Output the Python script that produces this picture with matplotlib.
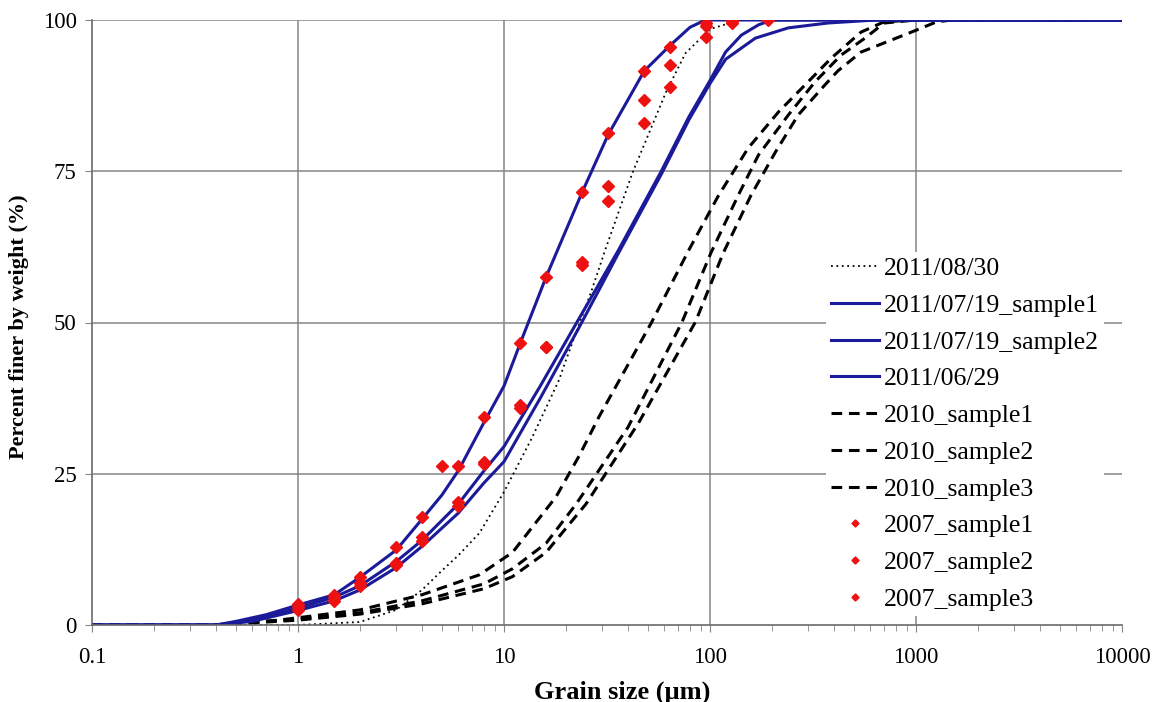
import matplotlib
matplotlib.use("Agg")
import matplotlib.pyplot as plt
from matplotlib.ticker import LogLocator, FixedLocator, NullFormatter

# ---- data ----
dotted_x = [0.1, 1, 2, 3, 4, 5, 6, 7.6, 10, 13.7, 18.5, 20, 26.7, 31, 42, 61, 76, 100, 140, 10000]
dotted_y = [0, 0, 0.5, 2.5, 5.8, 9, 11.5, 15.2, 22, 31, 40.5, 43.8, 55.4, 62, 74.7, 88, 94.5, 98.5, 100, 100]

s1_x = [0.1, 0.4, 0.6, 1, 1.5, 2, 3, 4, 6, 8, 10, 15, 23, 36, 58, 79, 100, 119, 142, 172, 200, 10000]
s1_y = [0, 0, 0.8, 2.8, 4.6, 6.5, 10.5, 14, 20, 25.5, 29.5, 39.5, 50.5, 62, 75, 84, 90, 94.7, 97.5, 99.2, 100, 100]

s2_x = [0.1, 0.4, 0.6, 1, 1.5, 2, 3, 4, 6, 8, 10, 15, 23, 36, 58, 79, 100, 119, 166, 240, 373, 640, 10000]
s2_y = [0, 0, 0.6, 2.4, 4, 5.8, 9.5, 13, 18.5, 23.5, 27, 37.5, 49, 61.5, 74.5, 83.5, 89.5, 93.5, 97, 98.7, 99.5, 100, 100]

jun_x = [0.1, 0.4, 0.5, 0.7, 1, 1.5, 2, 3, 4, 5, 6, 8, 10, 12, 16, 24, 32, 48, 64, 80, 95, 10000]
jun_y = [0, 0, 0.6, 1.7, 3.3, 5, 7.9, 12.4, 17.5, 21.5, 25.5, 33.5, 39.5, 46.6, 57.5, 71.6, 81, 91.6, 95.8, 98.8, 100, 100]

d1_x = [0.1, 0.4, 0.8, 1, 2, 4, 7.6, 11, 17.9, 23.2, 28.9, 52, 79, 110, 153, 215, 290, 388, 541, 700, 1000, 10000]
d1_y = [0, 0, 0.8, 1.2, 2.5, 5, 8.3, 12, 21.2, 28, 34.4, 50, 62, 71, 78.8, 84.8, 89.3, 93.7, 98, 99.7, 100, 100]

d2_x = [0.1, 0.4, 1, 2, 4, 8, 11, 16, 22.4, 40, 73, 101, 137, 172, 240, 324, 433, 565, 700, 1000, 10000]
d2_y = [0, 0, 1.0, 2.0, 4.0, 6.8, 9.3, 13.5, 20, 32.7, 50, 61.5, 71, 77.7, 84.3, 89.8, 94.2, 97, 99.5, 100, 100]

d3_x = [0.1, 0.4, 1, 2, 4, 8, 11, 16, 25, 45, 85, 116, 158, 208, 268, 362, 418, 541, 610, 1000, 1260, 1500, 10000]
d3_y = [0, 0, 0.8, 1.8, 3.5, 6, 8, 12, 20, 33.4, 50.1, 61.5, 71, 78.2, 84.3, 89.3, 91.6, 94.7, 95.4, 98.3, 99.7, 100, 100]

p1_x = [1, 1.5, 2, 3, 4, 5, 6, 8, 12, 16, 24, 32, 48, 64, 96, 128]
p1_y = [3.5, 5, 8, 12.9, 17.8, 26.2, 26.2, 34.4, 46.6, 57.5, 71.6, 81.3, 91.6, 95.5, 99.5, 100]

p2_x = [1, 1.5, 2, 3, 4, 6, 8, 12, 16, 24, 32, 48, 64, 96, 128, 192]
p2_y = [3, 4.5, 7, 10.2, 14.5, 20.3, 26.6, 36.4, 46, 60, 70.1, 83, 89, 97.2, 99.5, 100]

p3_x = [1, 1.5, 2, 3, 4, 6, 8, 12, 16, 24, 32, 48, 64, 96, 128]
p3_y = [2.5, 4, 6.4, 10, 13.9, 19.7, 27, 35.8, 46, 59.5, 72.6, 86.8, 92.6, 99, 99.8]

x_ticks = [0.1, 1, 10, 100, 1000, 10000]
x_tick_labels = ["0.1", "1", "10", "100", "1000", "10000"]
y_ticks = [0, 25, 50, 75, 100]

labels = ["2011/08/30", "2011/07/19_sample1", "2011/07/19_sample2", "2011/06/29",
          "2010_sample1", "2010_sample2", "2010_sample3",
          "2007_sample1", "2007_sample2", "2007_sample3"]

# ---- drawing ----
plt.rcParams['font.family'] = ['Liberation Serif', 'DejaVu Serif']
fig = plt.figure(figsize=(11.64, 7.02), dpi=100)
ax = fig.add_axes([92/1164, 1-625/702, (1122-92)/1164, (625-20)/702])

ax.set_xscale('log')
ax.set_xlim(0.1, 10000)
ax.set_ylim(0, 100)

grid_c = '#858585'
for gx in x_ticks[1:-1]:
    ax.axvline(gx, color=grid_c, lw=1.1, zorder=0)
for gy in y_ticks[1:]:
    ax.axhline(gy, color=grid_c, lw=1.1, zorder=0)

blue = '#1b1b9a'
ax.plot(dotted_x, dotted_y, color='black', ls=(0, (1, 2)), lw=1.3, label=labels[0], zorder=3)
ax.plot(s1_x, s1_y, color=blue, lw=2.2, label=labels[1], zorder=4)
ax.plot(s2_x, s2_y, color=blue, lw=2.2, label=labels[2], zorder=4)
ax.plot(jun_x, jun_y, color=blue, lw=2.2, label=labels[3], zorder=4)
ax.plot(d1_x, d1_y, color='black', ls=(0, (3.5, 2.2)), lw=2.2, label=labels[4], zorder=3)
ax.plot(d2_x, d2_y, color='black', ls=(0, (3.5, 2.2)), lw=2.2, label=labels[5], zorder=3)
ax.plot(d3_x, d3_y, color='black', ls=(0, (3.5, 2.2)), lw=2.2, label=labels[6], zorder=3)
for px, py, lb in [(p1_x, p1_y, labels[7]), (p2_x, p2_y, labels[8]), (p3_x, p3_y, labels[9])]:
    ax.plot(px, py, ls='none', marker='D', ms=6, color='#ee1111', mec='#ee1111', label=lb, zorder=5)

ax.xaxis.set_major_locator(FixedLocator(x_ticks))
ax.set_xticklabels(x_tick_labels)
ax.xaxis.set_minor_locator(LogLocator(base=10, subs=range(2, 10)))
ax.xaxis.set_minor_formatter(NullFormatter())
ax.set_yticks(y_ticks)
ax.tick_params(axis='both', which='major', labelsize=16.5, direction='out', length=5, color=grid_c)
ax.tick_params(axis='y', which='major', pad=6)
ax.tick_params(axis='x', which='major', pad=11)
ax.tick_params(axis='x', which='minor', direction='out', length=4, color=grid_c)

for s in ['top', 'right']:
    ax.spines[s].set_visible(False)
for s in ['left', 'bottom']:
    ax.spines[s].set_color('#6a6a6a')
    ax.spines[s].set_linewidth(1.2)
    ax.spines[s].set_zorder(12)

ax.set_xlabel('Grain size (µm)', fontsize=19, fontweight='bold')
ax.xaxis.set_label_coords((622 - 92) / 1030, (625 - 692) / 605)
ax.xaxis.label.set_va('center')
ax.set_ylabel('Percent finer by weight (%)', fontsize=16, fontweight='bold')
ax.yaxis.set_label_coords((19 - 92) / 1030, (625 - 327) / 605)
ax.yaxis.label.set_va('center')

leg = ax.legend(loc='upper left', bbox_to_anchor=((826-92)/1030, (625-252)/605), fontsize=18.5,
                frameon=True, facecolor='white', edgecolor='none', framealpha=1, fancybox=False,
                handlelength=1.85, handletextpad=0.2, labelspacing=0.535, borderaxespad=0.0,
                borderpad=0.2, markerscale=0.6)
leg.set_zorder(10)

fig.savefig('out.png', dpi=100)
